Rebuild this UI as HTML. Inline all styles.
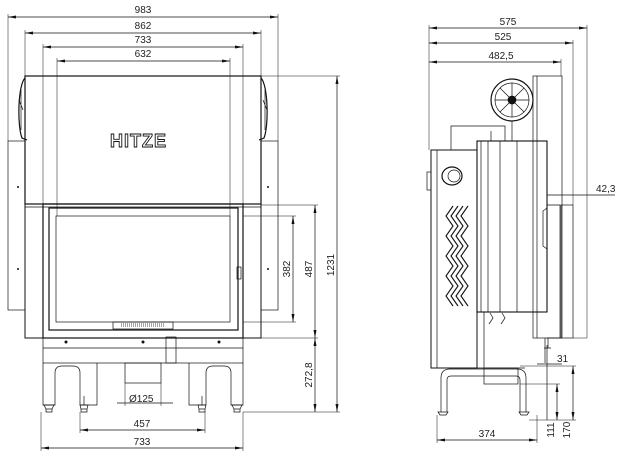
<!DOCTYPE html>
<html><head><style>
html,body{margin:0;padding:0;background:#fff}
svg{display:block}
text{font-family:"Liberation Sans",sans-serif;font-size:10px;fill:#222}
</style></head><body>
<svg width="624" height="460" viewBox="0 0 624 460" xmlns="http://www.w3.org/2000/svg">
<defs>
<marker id="a" markerWidth="8" markerHeight="6" refX="8" refY="3" orient="auto-start-reverse" markerUnits="userSpaceOnUse"><path d="M0,1.5 L8,3 L0,4.5z" fill="#111"/></marker>
</defs>
<g stroke="#111" stroke-width="0.7" fill="none">
<!-- LEFT VIEW dims -->
<line x1="8" y1="17" x2="278" y2="17" marker-start="url(#a)" marker-end="url(#a)"/>
<line x1="25" y1="33" x2="261" y2="33" marker-start="url(#a)" marker-end="url(#a)"/>
<line x1="43" y1="47" x2="243" y2="47" marker-start="url(#a)" marker-end="url(#a)"/>
<line x1="57" y1="61" x2="230" y2="61" marker-start="url(#a)" marker-end="url(#a)"/>
<line x1="8" y1="14" x2="8" y2="141" stroke-width="0.5"/>
<line x1="278" y1="14" x2="278" y2="141" stroke-width="0.5"/>
<line x1="25" y1="30" x2="25" y2="76" stroke-width="0.5"/>
<line x1="261" y1="30" x2="261" y2="76" stroke-width="0.5"/>
<line x1="43" y1="44" x2="43" y2="204" stroke-width="0.5"/>
<line x1="243" y1="44" x2="243" y2="204" stroke-width="0.5"/>
<line x1="57" y1="58" x2="57" y2="216" stroke-width="0.5"/>
<line x1="230" y1="58" x2="230" y2="216" stroke-width="0.5"/>
<!-- top box -->
<rect x="25" y="76" width="236" height="128" stroke-width="1.2"/>
<line x1="261" y1="76" x2="340" y2="76" stroke-width="0.5"/>
<!-- fans on sides -->
<path d="M25,78 C18,85 17,125 22,138 L27,140" stroke-width="1.2"/>
<path d="M21,90 L21,130 M19,100 L23,110" />
<path d="M261,78 C268,85 269,125 264,138 L259,140" stroke-width="1.2"/>
<path d="M265,90 L265,130 M263,100 L267,110"/>
<!-- side panels -->
<rect x="8" y="141" width="17" height="169"/>
<rect x="261" y="141" width="17" height="169"/>
<!-- lower frame -->
<rect x="25" y="204" width="236" height="134" stroke-width="1"/>
<line x1="25" y1="207" x2="261" y2="207"/>
<rect x="43" y="204" width="200" height="134" stroke-width="1.2"/>
<rect x="49" y="208" width="189" height="122" stroke-width="1.2"/>
<rect x="56" y="216" width="174" height="106"/>
<rect x="113" y="322" width="60" height="7"/>
<path d="M121,324 h44 M121,326 h44" stroke-dasharray="1 1"/>
<rect x="237" y="267" width="4" height="12"/>
<!-- base -->
<rect x="43" y="338" width="200" height="25"/>
<line x1="43" y1="348" x2="243" y2="348"/>
<rect x="166" y="337" width="10" height="26"/>
<rect x="125" y="363" width="36" height="20"/>
<!-- legs -->
<path d="M43,363 V405 H55 V373 Q55,366 62,366 H73 Q80,366 80,373 V405 H97 V363"/>
<path d="M243,363 V405 H231 V373 Q231,366 224,366 H213 Q206,366 206,373 V405 H189 V363"/>
<path d="M43,405 h12 M44,405 l2,4 h6 l2,-4 M46,409 v3 h6 v-3"/>
<path d="M231,405 h12 M232,405 l2,4 h6 l2,-4 M234,409 v3 h6 v-3"/>
<path d="M84,396 v9 M80,405 h8 l-1,4 h-6z M81,409 v3 h6 v-3"/>
<path d="M202,396 v9 M198,405 h8 l-1,4 h-6z M199,409 v3 h6 v-3"/>
<!-- right dims left view -->
<line x1="243" y1="216" x2="296" y2="216" stroke-width="0.5"/>
<line x1="243" y1="322" x2="296" y2="322" stroke-width="0.5"/>
<line x1="293" y1="216" x2="293" y2="322" marker-start="url(#a)" marker-end="url(#a)"/>
<line x1="261" y1="205" x2="318" y2="205" stroke-width="0.5"/>
<line x1="261" y1="338" x2="318" y2="338" stroke-width="0.5"/>
<line x1="315" y1="205" x2="315" y2="338" marker-start="url(#a)" marker-end="url(#a)"/>
<line x1="315" y1="338" x2="315" y2="412" marker-start="url(#a)" marker-end="url(#a)"/>
<line x1="243" y1="412" x2="340" y2="412" stroke-width="0.5"/>
<line x1="337" y1="76" x2="337" y2="412" marker-start="url(#a)" marker-end="url(#a)"/>
<!-- bottom dims -->
<line x1="80" y1="412" x2="80" y2="433" stroke-width="0.5"/>
<line x1="205" y1="412" x2="205" y2="433" stroke-width="0.5"/>
<line x1="80" y1="430" x2="205" y2="430" marker-start="url(#a)" marker-end="url(#a)"/>
<line x1="41" y1="412" x2="41" y2="451" stroke-width="0.5"/>
<line x1="243" y1="412" x2="243" y2="451" stroke-width="0.5"/>
<line x1="41" y1="448" x2="243" y2="448" marker-start="url(#a)" marker-end="url(#a)"/>
<line x1="117" y1="403" x2="173" y2="403"/>
<line x1="125" y1="383" x2="125" y2="406" stroke-width="0.5"/>
<line x1="161" y1="383" x2="161" y2="406" stroke-width="0.5"/>

<!-- RIGHT VIEW -->
<line x1="429" y1="28" x2="587" y2="28" marker-start="url(#a)" marker-end="url(#a)"/>
<line x1="429" y1="43" x2="573" y2="43" marker-start="url(#a)" marker-end="url(#a)"/>
<line x1="429" y1="62" x2="561" y2="62" marker-start="url(#a)" marker-end="url(#a)"/>
<line x1="429" y1="25" x2="429" y2="150" stroke-width="0.5"/>
<line x1="587" y1="25" x2="587" y2="338" stroke-width="0.5"/>
<line x1="573" y1="40" x2="573" y2="205" stroke-width="0.5"/>
<line x1="561" y1="59" x2="561" y2="76" stroke-width="0.5"/>
<line x1="573" y1="338" x2="587" y2="338" stroke-width="0.5"/>
<!-- back body -->
<rect x="431" y="150" width="46" height="218" stroke-width="1"/>
<line x1="437" y1="150" x2="437" y2="368"/>
<rect x="427" y="172" width="4" height="18"/>
<ellipse cx="452" cy="176" rx="10" ry="9" stroke-width="1.2"/>
<ellipse cx="454" cy="176" rx="6" ry="6"/>
<g stroke-width="1.1">
<path d="M453,206 l-7,10 7,10 -7,10 7,10 -7,10 7,10 -7,10 7,10 -7,10 7,10"/>
<path d="M458,206 l-7,10 7,10 -7,10 7,10 -7,10 7,10 -7,10 7,10 -7,10 7,10"/>
<path d="M463,206 l-7,10 7,10 -7,10 7,10 -7,10 7,10 -7,10 7,10 -7,10 7,10"/>
<path d="M468,206 l-7,10 7,10 -7,10 7,10 -7,10 7,10 -7,10 7,10 -7,10 7,10"/>
</g>
<!-- duct -->
<path d="M451,150 V126 H505 V141"/>
<path d="M491,141 V131"/>
<circle cx="512" cy="100" r="21" stroke-width="1.2"/>
<circle cx="512" cy="100" r="17"/>
<circle cx="512" cy="100" r="4" fill="#111"/>
<path d="M512,83 V117 M495,100 H529 M500,88 L524,112 M524,88 L500,112"/>
<path d="M512,121 V141"/>
<!-- rising box -->
<rect x="533" y="76" width="29" height="262"/>
<line x1="537" y1="76" x2="537" y2="338"/>
<!-- main side panel -->
<rect x="477" y="141" width="70" height="171" stroke-width="1.1"/>
<line x1="481" y1="141" x2="481" y2="312"/>
<line x1="488" y1="141" x2="488" y2="312"/>
<line x1="500" y1="141" x2="500" y2="312"/>
<line x1="517" y1="141" x2="517" y2="312"/>
<path d="M547,205 H560 V338 H547 M547,208 l-4,3 v35 l4,3"/>
<rect x="561" y="205" width="12" height="133"/>
<path d="M490,313 l3,5 -4,6 M502,313 l3,5 -4,6"/>
<!-- lower right -->
<line x1="484" y1="312" x2="484" y2="368"/>
<path d="M545,338 v25 M548,338 v10 m-4,0 h7"/>
<!-- base legs -->
<path d="M437,368 H525 M441,412 V378 Q441,369 450,369 H517 Q526,369 526,378 V412"/>
<path d="M447,412 V380 Q447,376 451,376 H516 Q520,376 520,380 V412"/>
<rect x="484" y="368" width="34" height="16"/>
<path d="M438,412 h10 l-2,3 h-6z M519,412 h10 l-2,3 h-6z"/>
<line x1="547" y1="345" x2="547" y2="420"/>
<line x1="520" y1="384" x2="560" y2="384" stroke-width="0.5"/>
<line x1="520" y1="366" x2="576" y2="366" stroke-width="0.5"/>
<line x1="529" y1="420" x2="576" y2="420" stroke-width="0.5"/>
<line x1="557" y1="384" x2="557" y2="420" marker-start="url(#a)" marker-end="url(#a)"/>
<line x1="573" y1="366" x2="573" y2="420" marker-start="url(#a)" marker-end="url(#a)"/>
<line x1="537" y1="364" x2="562" y2="364"/>
<line x1="547" y1="195" x2="615" y2="195"/>
<line x1="437" y1="415" x2="437" y2="443" stroke-width="0.5"/>
<line x1="537" y1="415" x2="537" y2="443" stroke-width="0.5"/>
<line x1="437" y1="440" x2="537" y2="440" marker-start="url(#a)" marker-end="url(#a)"/>
</g>
<g fill="#111">
<circle cx="18" cy="187" r="1"/><circle cx="18" cy="269" r="1"/><circle cx="268" cy="187" r="1"/><circle cx="268" cy="269" r="1"/>
<circle cx="66" cy="342" r="1.5"/><circle cx="143" cy="342" r="1.5"/><circle cx="219" cy="342" r="1.5"/>
</g>
<text x="110" y="147" style="font-size:18px;font-weight:bold;fill:none;stroke:#111;stroke-width:0.9;letter-spacing:1px">HITZE</text>
<text x="143" y="13" text-anchor="middle">983</text>
<text x="143" y="29" text-anchor="middle">862</text>
<text x="143" y="43" text-anchor="middle">733</text>
<text x="143" y="57" text-anchor="middle">632</text>
<text x="142" y="427" text-anchor="middle">457</text>
<text x="142" y="445" text-anchor="middle">733</text>
<text x="129" y="402">Ø125</text>
<text transform="translate(290,269) rotate(-90)" text-anchor="middle">382</text>
<text transform="translate(312,269) rotate(-90)" text-anchor="middle">487</text>
<text transform="translate(312,375) rotate(-90)" text-anchor="middle">272,8</text>
<text transform="translate(334,265) rotate(-90)" text-anchor="middle">1231</text>
<text x="508" y="25" text-anchor="middle">575</text>
<text x="503" y="40" text-anchor="middle">525</text>
<text x="501" y="59" text-anchor="middle">482,5</text>
<text x="596" y="192">42,3</text>
<text x="557" y="362">31</text>
<text x="487" y="437" text-anchor="middle">374</text>
<text transform="translate(554,430) rotate(-90)" text-anchor="middle">111</text>
<text transform="translate(570,430) rotate(-90)" text-anchor="middle">170</text>
</svg>
</body></html>
